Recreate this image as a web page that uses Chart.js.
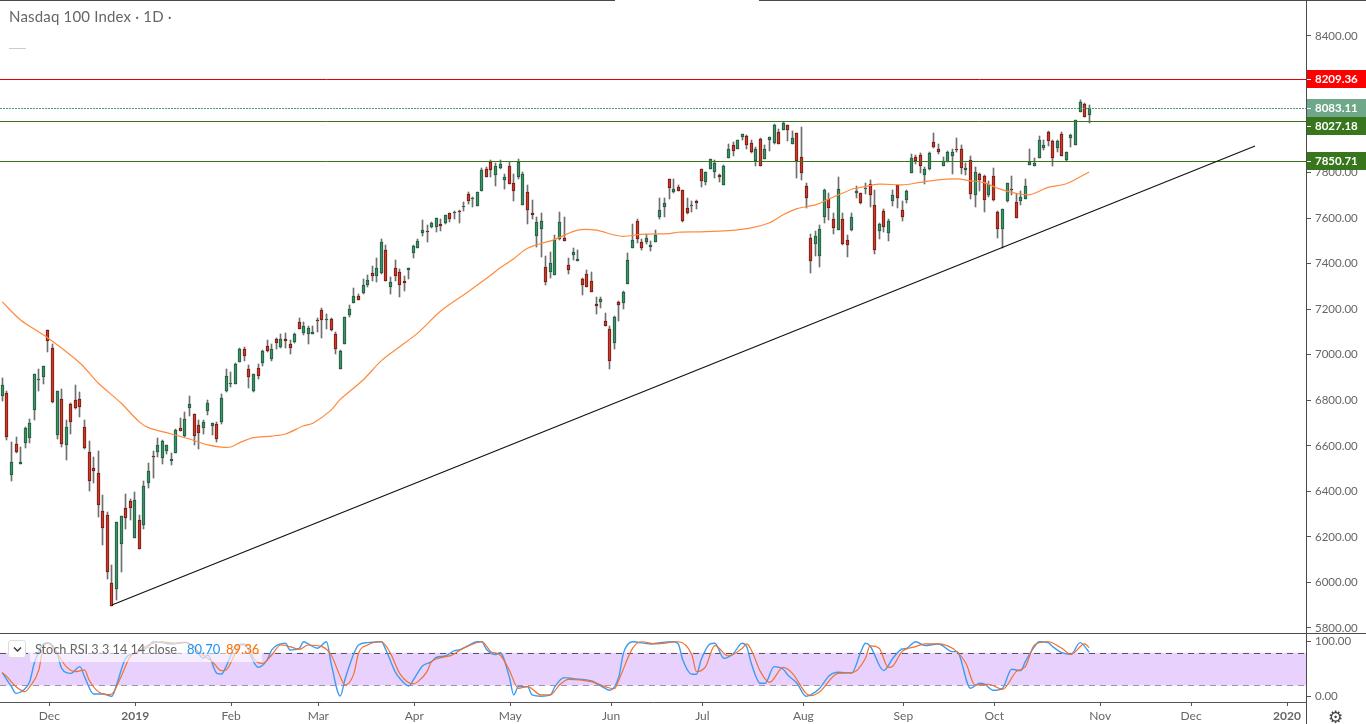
<!DOCTYPE html>
<html>
<head>
<meta charset="utf-8">
<title>Nasdaq 100 Index</title>
<script src="https://cdn.jsdelivr.net/npm/chart.js@4/dist/chart.umd.min.js"></script>
<style>
  html, body { margin:0; padding:0; background:#fff; overflow:hidden; }
  body { width:1366px; height:724px; position:relative; font-family:Lato, sans-serif; }
  canvas { position:absolute; left:0; }
  #priceChart { top:0; }
  #stochChart { top:633px; }
  .rule { position:absolute; background:#4a4a4a; }
  .txt { position:absolute; white-space:nowrap; color:#666; }
  #title { left:9px; top:7px; font-size:15px; letter-spacing:.18px; }
  #dash { position:absolute; left:9px; top:48px; width:17px; height:1px; background:#ccc; }
  #band { position:absolute; left:30px; top:640px; width:232px; height:22px; background:rgba(255,255,255,.6); }
  #toggle { position:absolute; left:8px; top:640px; width:18px; height:18px; box-sizing:border-box; background:#fff; border:1px solid #ddd; border-radius:3px; }
  #toggle svg { position:absolute; left:4px; top:5px; }
  #stochName { left:35px; top:641px; font-size:12.7px; }
  #stochK { left:187px; top:641px; font-size:13px; color:#2196f3; }
  #stochD { left:226px; top:641px; font-size:13px; color:#ff6d00; }
  #gear { left:1328px; top:707px; font:17px "DejaVu Sans", sans-serif; color:#444; }
</style>
</head>
<body>
<canvas id="priceChart" width="1366" height="633"></canvas>
<canvas id="stochChart" width="1366" height="91"></canvas>
<div class="rule" style="left:0;top:0;width:615px;height:1px"></div>
<div class="rule" style="left:759px;top:0;width:607px;height:1px"></div>
<div class="rule" style="left:0;top:633px;width:1366px;height:1px"></div>
<div class="rule" style="left:1306px;top:0;width:1px;height:724px"></div>
<div class="txt" id="title">Nasdaq 100 Index · 1D ·</div>
<div id="dash"></div>
<div id="band"></div>
<div id="toggle"><svg width="9" height="7"><path d="M1 1.5 L4.5 5 L8 1.5" fill="none" stroke="#333" stroke-width="1.4"/></svg></div>
<div class="txt" id="stochName">Stoch RSI 3 3 14 14 close</div>
<div class="txt" id="stochK">80.70</div>
<div class="txt" id="stochD">89.36</div>
<div class="txt" id="gear">⚙</div>
<script>
// ── Data ──────────────────────────────────────────────────────
const opens = [
  6820,6831,6473,6607,6522,6614,6636,6756,6891,6901,
  7107,7028,6649,6804,6602,6782,6800,6804,6681,6572,
  6501,6479,6312,6295,5996,5970,6167,6326,6356,6197,
  6273,6251,6435,6555,6574,6548,6579,6535,6570,6677,
  6643,6768,6738,6690,6680,6755,6689,6695,6706,6839,
  6873,6873,6970,7024,6936,6842,6940,6962,7037,6983,
  7068,7033,7068,7046,7055,7142,7097,7093,7093,7153,
  7195,7154,7156,7090,6939,7049,7175,7229,7257,7273,
  7308,7358,7347,7358,7459,7299,7380,7362,7323,7374,
  7448,7470,7536,7542,7563,7563,7573,7580,7621,7624,
  7631,7650,7705,7686,7655,7721,7814,7848,7791,7822,
  7769,7828,7753,7782,7659,7713,7621,7523,7554,7384,
  7365,7352,7508,7511,7393,7440,7413,7331,7353,7323,
  7222,7233,7147,7112,7053,7230,7229,7312,7470,7586,
  7494,7497,7475,7497,7607,7650,7770,7716,7735,7722,
  7643,7655,7674,7814,7760,7816,7804,7790,7747,7866,
  7920,7905,7958,7959,7929,7850,7946,7861,7945,7929,
  7977,7989,8008,7927,7972,7867,7740,7511,7488,7435,
  7607,7683,7595,7549,7595,7503,7547,7712,7709,7730,
  7749,7656,7542,7631,7536,7677,7746,7636,7681,7800,
  7867,7876,7791,7816,7933,7902,7831,7847,7874,7904,
  7902,7813,7854,7703,7792,7784,7702,7784,7626,7554,
  7677,7727,7669,7677,7686,7835,7831,7866,7908,7977,
  7937,7910,7968,7855,7953,7923,8068,8100,8055
];
const highs = [
  6897,6841,6617,6637,6595,6683,6718,6914,6936,6949,
  7109,7047,6841,6848,6714,6787,6866,6837,6714,6621,
  6551,6577,6384,6308,6077,6264,6290,6389,6365,6396,
  6295,6444,6523,6577,6634,6624,6602,6569,6674,6722,
  6749,6819,6738,6714,6712,6801,6699,6705,6826,6938,
  6924,6962,7028,7036,6955,6916,6960,7020,7065,7047,
  7074,7091,7096,7065,7094,7161,7142,7125,7125,7163,
  7204,7179,7160,7099,7019,7166,7219,7293,7267,7331,
  7349,7390,7425,7507,7482,7342,7416,7375,7346,7380,
  7482,7507,7592,7570,7585,7602,7595,7614,7621,7630,
  7636,7671,7713,7693,7713,7819,7826,7855,7844,7855,
  7794,7848,7794,7860,7804,7746,7680,7605,7623,7432,
  7450,7526,7627,7605,7425,7470,7460,7339,7371,7364,
  7254,7255,7182,7125,7169,7235,7282,7447,7573,7595,
  7507,7529,7500,7547,7690,7689,7771,7771,7746,7722,
  7687,7674,7681,7817,7801,7860,7854,7795,7832,7926,
  7933,7943,7970,7964,7942,7913,7951,7921,7958,8012,
  7990,8024,8009,7981,7975,7999,7753,7529,7542,7569,
  7727,7709,7623,7781,7623,7525,7621,7741,7711,7754,
  7766,7724,7579,7639,7595,7724,7747,7677,7722,7882,
  7877,7885,7823,7889,7973,7926,7869,7894,7902,7952,
  7920,7841,7873,7823,7797,7788,7763,7819,7630,7639,
  7756,7785,7705,7718,7772,7902,7863,7959,7942,7981,
  7942,7942,7977,7889,7968,8033,8119,8104,8096
];
const lows = [
  6798,6626,6447,6570,6522,6591,6613,6715,6842,6872,
  7014,6790,6632,6596,6539,6654,6762,6727,6588,6403,
  6438,6289,6166,6017,5897,5923,6047,6235,6274,6197,
  6146,6236,6416,6460,6553,6522,6564,6517,6570,6667,
  6640,6733,6605,6588,6654,6737,6648,6617,6695,6838,
  6859,6873,6970,6973,6856,6837,6895,6951,7012,6974,
  7025,7031,7031,7005,7053,7113,7088,7049,7091,7100,
  7075,7115,7106,7003,6939,7049,7167,7227,7242,7268,
  7296,7324,7320,7356,7325,7268,7325,7255,7282,7333,
  7426,7469,7523,7497,7558,7541,7545,7576,7585,7596,
  7580,7633,7664,7650,7655,7721,7782,7782,7741,7816,
  7730,7751,7677,7773,7659,7574,7596,7475,7429,7308,
  7337,7352,7504,7501,7355,7418,7413,7264,7296,7277,
  7181,7205,7128,6938,7027,7150,7203,7312,7470,7492,
  7462,7488,7457,7494,7598,7607,7686,7709,7721,7585,
  7620,7629,7640,7737,7747,7814,7776,7759,7747,7864,
  7873,7904,7943,7904,7888,7831,7830,7860,7896,7927,
  7924,7987,7940,7926,7776,7768,7645,7359,7435,7387,
  7579,7592,7530,7548,7484,7431,7545,7689,7664,7706,
  7651,7443,7510,7539,7501,7655,7645,7588,7668,7800,
  7839,7800,7749,7813,7907,7882,7829,7845,7794,7890,
  7794,7790,7686,7650,7719,7628,7691,7675,7513,7470,
  7672,7703,7601,7658,7686,7835,7829,7864,7899,7917,
  7829,7891,7873,7851,7913,7923,8066,8044,8019
];
const closes = [
  6866,6640,6528,6574,6528,6677,6699,6914,6894,6949,
  7062,6794,6839,6610,6681,6703,6765,6769,6592,6447,
  6491,6342,6241,6047,5898,6264,6290,6285,6329,6361,
  6146,6422,6488,6553,6602,6620,6602,6541,6668,6667,
  6716,6782,6645,6658,6703,6787,6699,6632,6809,6905,
  6876,6958,7024,6996,6904,6914,6908,7015,7015,7024,
  7053,7068,7062,7031,7091,7115,7125,7116,7099,7150,
  7151,7157,7110,7025,7015,7164,7200,7257,7242,7305,
  7327,7347,7380,7494,7325,7318,7347,7308,7317,7380,
  7476,7498,7547,7539,7577,7599,7566,7612,7595,7627,
  7629,7653,7677,7689,7713,7810,7782,7813,7828,7836,
  7781,7751,7721,7845,7792,7637,7615,7582,7586,7321,
  7402,7504,7582,7501,7374,7450,7421,7308,7299,7277,
  7216,7243,7128,6974,7164,7220,7274,7415,7503,7510,
  7470,7511,7481,7525,7634,7665,7734,7727,7721,7589,
  7624,7658,7668,7765,7801,7858,7842,7782,7829,7902,
  7896,7942,7968,7923,7889,7902,7831,7902,7955,8008,
  7927,8016,7989,7951,7850,7800,7690,7413,7520,7551,
  7722,7646,7558,7727,7487,7484,7604,7719,7665,7732,
  7703,7462,7574,7563,7586,7700,7690,7607,7719,7863,
  7853,7831,7814,7885,7914,7892,7850,7889,7889,7901,
  7822,7819,7708,7801,7769,7681,7749,7681,7551,7639,
  7753,7724,7602,7691,7740,7847,7841,7942,7920,7940,
  7866,7937,7874,7889,7964,8030,8109,8046,8083
];

// moving average, sampled where the line bends
const maBars = [0,4,10,17,21,26,30,32,37,41,45,48,50,52,55,59,62,66,68,72,74,79,83,87,91,96,102,107,109,112,115,121,126,130,134,136,140,146,148,153,159,164,168,171,174,178,181,186,187,192,197,201,204,209,212,215,218,222,225,229,233,238];
const maValues = [7232,7153,7074,6964,6876,6788,6705,6680,6652,6630,6604,6594,6595,6614,6636,6643,6652,6688,6699,6757,6804,6889,6974,7035,7096,7192,7277,7350,7382,7422,7468,7507,7547,7547,7526,7520,7529,7532,7538,7540,7545,7557,7580,7615,7642,7658,7684,7727,7731,7749,7746,7757,7766,7772,7764,7756,7731,7709,7703,7735,7751,7803];

const trendBars = [24, 274.3];
const trendValues = [5901, 7917];

const resistance = 8209.36;
const lastPrice = 8083.11;
const supportHigh = 8027.18;
const supportLow = 7850.71;

const priceTicks = [8400,8200,8000,7800,7600,7400,7200,7000,6800,6600,6400,6200,6000,5800];

const monthBars = [10.3,29.1,50.1,69.2,90.2,111.2,133.3,153.3,175.4,197.3,217.2,240.4,260.3,281.3];
const monthLabels = ['Dec','2019','Feb','Mar','Apr','May','Jun','Jul','Aug','Sep','Oct','Nov','Dec','2020'];

// Stoch RSI, sampled where the lines bend
const kBars = [0,2,3,4,6,7,9,10,12,13,15,17,18,20,22,24,25,27,29,32,33,35,37,40,42,44,45,47,48,49,51,53,55,56,58,59,62,63,65,66,67,69,71,72,74,75,77,78,80,83,84,86,87,89,90,92,94,95,97,99,100,102,104,105,106,108,109,111,112,113,115,116,118,120,121,123,125,129,132,133,135,136,138,142,144,147,148,149,151,152,153,155,156,158,160,162,163,164,166,167,169,171,172,174,176,177,179,181,183,186,188,189,190,193,195,197,198,200,202,205,208,209,212,214,215,217,219,221,223,224,226,227,229,230,232,234,236,238];
const kValues = [43.4,17.7,5.4,7.9,26.9,60.5,96,98.4,78.8,51.3,42.1,54.4,36,4.2,4.2,0,20.7,69.7,78.8,91,100,98.4,96,98.4,91,69.7,75.8,42.1,40.9,54.4,91,96,63.5,53.1,66.6,85,97.2,85,88,100,96,88,100,60.5,0.5,29.9,78.8,94.1,98.4,100,85,45.2,33,18.9,29.9,55.6,63.5,71.5,74,83.7,85,92.9,100,100,86.2,76.4,80,36,2.4,17.7,17.7,2.4,0,2.4,17.7,34.2,32.4,28,14.6,11,36,78.8,100,96,98.4,100,96,66.6,40.3,40.3,66.6,96,97.2,69.7,77.6,97.2,91,60.5,23.8,23.8,54.4,49.5,39.1,23.8,0,2.4,14.6,37.3,44,42.8,81.9,97.2,92.3,47,69.7,86.8,88,100,92.9,96,81.9,81.9,14.6,23.8,22.6,11,14.6,49.5,47,63.5,91,100,98.4,91,80,77,98.4,80.7];
const dBars = [0,1,3,5,6,8,9,10,12,14,16,18,19,21,23,24,26,28,30,32,35,38,40,43,45,46,48,49,51,52,54,55,57,59,61,63,65,67,70,72,74,75,77,78,80,83,85,87,90,91,93,94,98,101,105,107,109,111,113,115,118,120,122,124,129,134,135,138,140,143,148,151,152,154,156,159,162,163,164,166,168,171,173,176,177,179,183,186,189,190,192,194,195,197,200,202,205,209,211,213,216,219,222,224,226,229,232,234,237,238];
const dValues = [43.4,36,17.7,8.5,17.7,48.3,91,97.2,78.8,54.4,45.2,48.3,29.9,8.5,3,4.2,36,72.7,83.7,94.1,100,97.2,99.6,81.9,69.7,63.5,47,48.3,78.8,94.1,94.1,69.7,60.5,75.8,94.1,91,86.2,94.1,91,75.8,36,20.7,42.1,78.8,94.1,100,78.8,42.1,22.6,26.9,45.2,63.5,74,88,100,81.9,75.8,48.3,14.6,17.7,2.4,2.4,20.7,31.1,26.9,14,29.9,88,100,96,100,75.8,45.2,54.4,92.9,74,88,96,85,45.2,25.6,53.1,42.1,5.4,1.2,8.5,42.1,42.8,69.7,92.3,88,53.1,55.6,81.9,91,96,96,81.9,60.5,20.7,22,12.8,45.2,54.4,94.1,100,88,77,96,89.36];
const stochTicks = [100, 0];
const stochUpper = 80;
const stochLower = 20;

// ── Helpers ───────────────────────────────────────────────────
const X_MIN = -0.504, X_MAX = 285.46;
const AXIS_COLOR = '#555';
const TICK_FONT = { family:'Lato, sans-serif', size:11.5 };

const hline = v => [{ x:X_MIN, y:v }, { x:X_MAX, y:v }];
const zipXY = (xs, ys) => xs.map((x, i) => ({ x, y:ys[i] }));
const isUp = i => closes[i] >= opens[i];
const lineSet = (data, color, extra) => Object.assign({
  type:'line', data, borderColor:color, borderWidth:1, pointRadius:0, tension:0, fill:false, order:1
}, extra);

// keep candles and level lines on whole pixels
const snapMarks = {
  id:'snapMarks',
  beforeDatasetDraw(chart, args) {
    if (args.meta.type === 'bar') {
      args.meta.data.forEach(el => {
        el.x = Math.floor(el.x) + 0.5;
        el.y = Math.round(el.y);
        el.base = Math.round(el.base);
        if (el.y === el.base) el.base = el.y + 1;
      });
    } else if (chart.data.datasets[args.index].level) {
      args.meta.data.forEach(el => { el.y = Math.round(el.y) + 0.5; });
    }
  }
};

const levelLine = (v, color, extra) => lineSet(hline(v), color, Object.assign({ level:true }, extra));

const priceTags = [
  { value:resistance,  bg:'#ff0000' },
  { value:lastPrice,   bg:'#6fa888' },
  { value:supportHigh, bg:'#38761d' },
  { value:supportLow,  bg:'#38761d' },
];

const axisTags = {
  id:'axisTags',
  afterDraw(chart) {
    const { ctx, scales:{ y } } = chart;
    let lastBottom = 0;
    ctx.save();
    ctx.font = 'bold 11.5px Lato, sans-serif';
    ctx.textBaseline = 'middle';
    priceTags.forEach(t => {
      // a tag that would cover the one above it slides down
      const top = Math.max(Math.round(y.getPixelForValue(t.value)) - 9, lastBottom);
      lastBottom = top + 18;
      ctx.fillStyle = t.bg;
      ctx.fillRect(1306, top, 60, 18);
      ctx.fillStyle = '#fff';
      ctx.fillRect(1307, top + 9, 4, 1);
      ctx.fillText(t.value.toFixed(2), 1315, top + 9.5);
    });
    ctx.restore();
  }
};

function tightAxis(width, height) {
  return s => {
    if (width) s.width = width;
    if (height) s.height = height;
    s.paddingTop = s.paddingBottom = s.paddingLeft = s.paddingRight = 0;
  };
}

// ── Price panel ───────────────────────────────────────────────
function renderPriceChart() {
  const bars = opens.map((_, i) => i);
  new Chart(document.getElementById('priceChart'), {
    type:'bar',
    data:{
      datasets:[
        lineSet(zipXY(trendBars, trendValues), '#111', { borderWidth:1.2, order:0 }),
        levelLine(resistance, '#e00000'),
        levelLine(lastPrice, '#4f9a75', { borderDash:[2, 1] }),
        levelLine(supportHigh, '#38761d'),
        levelLine(supportLow, '#38761d'),
        lineSet(zipXY(maBars, maValues), '#ff8a3c', { borderWidth:1.2, tension:0.3 }),
        {
          data:bars.map(i => ({ x:i, y:[opens[i], closes[i]] })),
          backgroundColor:bars.map(i => isUp(i) ? '#3f8f67' : '#cf3a28'),
          borderColor:bars.map(i => isUp(i) ? '#1f5a3c' : '#6e1a14'),
          borderWidth:1, borderSkipped:false, barThickness:3, grouped:false, order:2
        },
        {
          data:bars.map(i => ({ x:i, y:[lows[i], highs[i]] })),
          backgroundColor:'#6f6f6f',
          borderWidth:0, barThickness:1, grouped:false, order:3
        },
      ]
    },
    options:{
      responsive:false, animation:false, events:[],
      layout:{ padding:0 },
      plugins:{ legend:{ display:false }, tooltip:{ enabled:false } },
      scales:{
        x:{ type:'linear', min:X_MIN, max:X_MAX, offset:false, display:false },
        y:{
          position:'right', min:5778, max:8558,
          afterBuildTicks:s => { s.ticks = priceTicks.map(value => ({ value })); },
          afterFit:tightAxis(60),
          grid:{ drawOnChartArea:false, color:AXIS_COLOR, tickLength:5 },
          border:{ display:false },
          ticks:{ color:'#666', font:TICK_FONT, padding:4, callback:v => v.toFixed(2) }
        }
      }
    },
    plugins:[snapMarks, axisTags]
  });
}

// ── Stoch RSI panel ───────────────────────────────────────────
function renderStochChart() {
  new Chart(document.getElementById('stochChart'), {
    type:'line',
    data:{
      datasets:[
        lineSet(zipXY(kBars, kValues), '#3d9bf0', { borderWidth:1.4, order:1, cubicInterpolationMode:'monotone' }),
        lineSet(zipXY(dBars, dValues), '#f0702c', { borderWidth:1.2, order:0, cubicInterpolationMode:'monotone' }),
        levelLine(stochUpper, '#555', {
          borderDash:[6, 5], order:2,
          fill:{ value:stochLower }, backgroundColor:'#e9d1fd'
        }),
        levelLine(stochLower, '#555', { borderDash:[6, 5], order:2 }),
      ]
    },
    options:{
      responsive:false, animation:false, events:[],
      layout:{ padding:0 },
      plugins:{ legend:{ display:false }, tooltip:{ enabled:false } },
      scales:{
        x:{
          type:'linear', min:X_MIN, max:X_MAX,
          afterBuildTicks:s => { s.ticks = monthBars.map(value => ({ value })); },
          afterFit:tightAxis(0, 22),
          grid:{ drawOnChartArea:false, color:AXIS_COLOR, tickLength:4 },
          border:{ color:AXIS_COLOR },
          ticks:{
            color:'#666', padding:3, autoSkip:false, maxRotation:0,
            font:c => ({ family:'Lato, sans-serif', size:12, weight:/^20/.test(c.tick?.label) ? 'bold' : 'normal' }),
            callback:v => monthLabels[monthBars.indexOf(v)]
          }
        },
        y:{
          position:'right', min:-10.5, max:116.1,
          afterBuildTicks:s => { s.ticks = stochTicks.map(value => ({ value })); },
          afterFit:tightAxis(60),
          grid:{ drawOnChartArea:false, color:AXIS_COLOR, tickLength:5 },
          border:{ display:false },
          ticks:{ color:'#666', font:TICK_FONT, padding:4, callback:v => v.toFixed(2) }
        }
      }
    },
    plugins:[snapMarks]
  });
}

renderPriceChart();
renderStochChart();
</script>
</body>
</html>
